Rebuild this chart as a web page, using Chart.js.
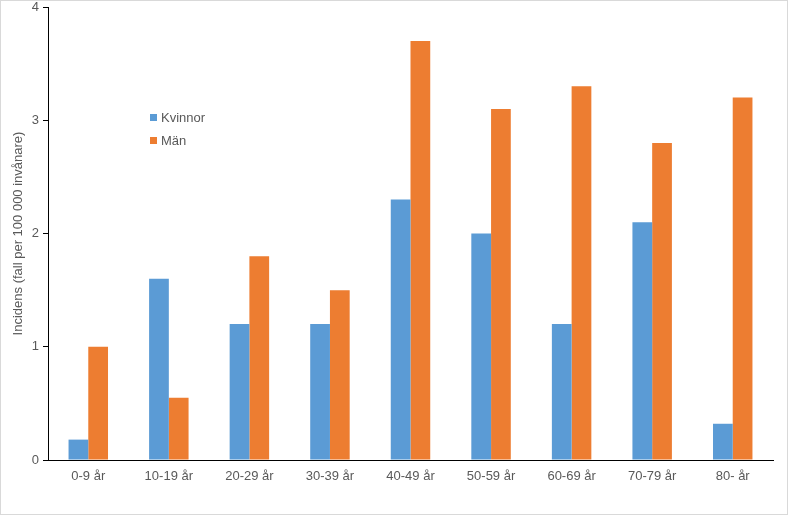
<!DOCTYPE html>
<html>
<head>
<meta charset="utf-8">
<script src="https://cdn.jsdelivr.net/npm/chart.js@4"></script>
<style>
  body { margin: 0; background: #fff; }
  .frame { width: 788px; height: 515px; box-sizing: border-box; border: 1px solid #d9d9d9; position: relative; }
</style>
</head>
<body>
<div class="frame"><canvas id="incidensChart"></canvas></div>
<script>
// ===== Data =====
const ageGroups = ['0-9 år', '10-19 år', '20-29 år', '30-39 år', '40-49 år', '50-59 år', '60-69 år', '70-79 år', '80- år'];
const kvinnor = [0.18, 1.6, 1.2, 1.2, 2.3, 2.0, 1.2, 2.1, 0.32];
const man = [1.0, 0.55, 1.8, 1.5, 3.7, 3.1, 3.3, 2.8, 3.2];
const yTicks = [0, 1, 2, 3, 4];

const FONT = "'Liberation Sans', Arial, sans-serif";
const GREY = '#595959';

// legend drawn inside the plot area, like the original
const innerLegend = {
  id: 'innerLegend',
  afterDraw(chart) {
    const ctx = chart.ctx;
    ctx.save();
    ctx.font = '13px ' + FONT;
    ctx.textBaseline = 'middle';
    chart.data.datasets.forEach((ds, i) => {
      const y = 117 + i * 23;
      ctx.fillStyle = ds.backgroundColor;
      ctx.fillRect(149, y - 4, 7, 7);
      ctx.fillStyle = GREY;
      ctx.fillText(ds.label, 160, y);
    });
    ctx.restore();
  }
};

new Chart(document.getElementById('incidensChart'), {
  type: 'bar',
  data: {
    labels: ageGroups,
    datasets: [
      { label: 'Kvinnor', data: kvinnor, backgroundColor: '#5B9BD5' },
      { label: 'Män', data: man, backgroundColor: '#ED7D31' }
    ]
  },
  options: {
    responsive: true,
    maintainAspectRatio: false,
    animation: false,
    datasets: { bar: { categoryPercentage: 0.49, barPercentage: 1.0 } },
    layout: { padding: { top: 6, right: 14, left: 0, bottom: 0 } },
    plugins: {
      legend: { display: false },
      tooltip: { enabled: false }
    },
    scales: {
      y: {
        min: 0,
        max: 4,
        afterBuildTicks: (scale) => { scale.ticks = yTicks.map(v => ({ value: v })); },
        afterFit: (scale) => {
          scale.width = 47;
          scale.paddingTop = 0;
          scale.paddingBottom = 0;
        },
        ticks: {
          font: { family: FONT, size: 13 },
          color: GREY,
          padding: 4
        },
        grid: { drawOnChartArea: false, drawTicks: true, tickLength: 5, color: '#000' },
        border: { display: true, color: '#000', width: 1 },
        title: {
          display: true,
          text: 'Incidens (fall per 100 000 invånare)',
          font: { family: FONT, size: 13 },
          color: GREY,
          padding: { top: 10, bottom: 2 }
        }
      },
      x: {
        afterFit: (scale) => { scale.height = 54; },
        ticks: {
          font: { family: FONT, size: 13 },
          color: GREY,
          padding: 1
        },
        grid: { display: false },
        border: { display: true, color: '#000', width: 1 }
      }
    }
  },
  plugins: [innerLegend]
});
</script>
</body>
</html>
